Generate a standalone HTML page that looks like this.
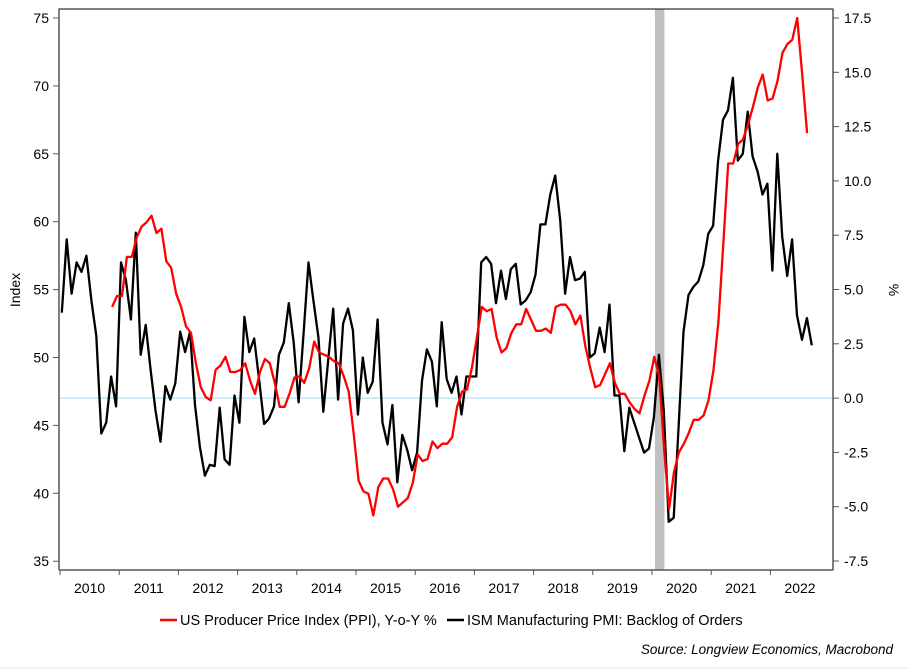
<!DOCTYPE html>
<html><head><meta charset="utf-8"><style>
html,body{margin:0;padding:0;background:#fff;}
svg{display:block;font-family:"Liberation Sans",Arial,sans-serif;}
</style></head><body>
<svg id="chart" width="907" height="672" viewBox="0 0 907 672">
<line x1="0" y1="668" x2="907" y2="668" stroke="#e0e0e0"/>
<g id="plot"></g>
<text x="20" y="290" font-size="14" text-anchor="middle" transform="rotate(-90 20 290)">Index</text>
<text x="889" y="290" font-size="14" text-anchor="middle" transform="rotate(90 889 290)">%</text>
<g>
<g><line x1="160" y1="620" x2="177" y2="620" stroke="#f00" stroke-width="2.5"/><text x="180" y="625" font-size="14.5">US Producer Price Index (PPI), Y-o-Y %</text></g>
<g><line x1="447" y1="620" x2="464" y2="620" stroke="#000" stroke-width="2.5"/><text x="467" y="625" font-size="14.5">ISM Manufacturing PMI: Backlog of Orders</text></g>
</g>
<text x="893" y="654" font-size="13.5" font-style="italic" text-anchor="end">Source: Longview Economics, Macrobond</text>
</svg>
<script>
const ismStart = 2010.03, ismEnd = 2022.70;
const ismValues = [53.3,58.7,54.7,57.0,56.3,57.5,54.2,51.6,44.4,45.2,48.6,46.4,57.0,55.7,52.8,59.2,50.2,52.4,49.1,46.1,43.8,47.9,46.9,48.1,51.9,50.4,51.9,46.5,43.4,41.3,42.1,42.0,46.3,42.5,42.1,47.2,45.2,53.0,50.4,51.4,48.3,45.1,45.5,46.4,50.2,51.1,54.0,51.1,46.7,51.8,57.0,54.2,51.5,46.0,49.8,53.6,46.9,52.5,53.6,52.0,45.8,50.0,47.4,48.2,52.8,45.2,43.6,46.5,40.8,44.3,43.2,41.7,43.0,48.3,50.6,49.7,46.4,52.6,48.4,47.4,48.6,45.8,48.6,48.6,48.6,57.0,57.4,56.9,54.0,56.4,54.3,56.5,56.9,53.9,54.2,54.8,56.1,59.8,59.8,62.0,63.4,60.1,54.7,57.4,55.7,55.8,56.3,50.0,50.3,52.2,50.4,53.9,47.2,47.2,43.1,46.3,45.2,44.1,43.0,43.3,45.6,50.2,46.1,37.9,38.2,44.9,51.9,54.6,55.2,55.6,56.8,59.1,59.7,64.5,67.5,68.2,70.6,64.5,65.0,68.1,64.8,63.7,62.0,62.8,56.4,65.0,58.9,56.0,58.7,53.1,51.3,52.9,50.9];
const ppiStart = 2010.88, ppiEnd = 2022.62;
const ppiValues = [4.2,4.7,4.7,6.5,6.5,7.4,7.9,8.1,8.4,7.6,7.8,6.3,6.0,4.8,4.2,3.3,3.0,1.6,0.5,0.05,-0.1,1.3,1.5,1.9,1.2,1.2,1.3,1.6,0.8,0.2,1.2,1.8,1.6,0.7,-0.4,-0.4,0.2,0.95,1.0,0.7,1.4,2.6,2.1,2.0,1.9,1.7,1.6,1.0,0.3,-1.6,-3.8,-4.3,-4.4,-5.4,-4.1,-3.7,-3.7,-4.2,-5.0,-4.8,-4.6,-3.9,-2.6,-2.9,-2.8,-2.0,-2.3,-2.1,-2.1,-1.8,-0.4,0.3,0.4,1.4,2.8,4.2,4.0,4.1,2.8,2.1,2.3,3.0,3.4,3.4,4.1,3.6,3.1,3.1,3.2,3.0,4.2,4.3,4.3,4.0,3.4,3.8,2.4,1.4,0.5,0.6,1.1,1.6,0.7,0.2,0.2,-0.2,-0.5,-0.7,0.1,0.8,1.9,1.0,-2.4,-5.1,-3.4,-2.5,-2.1,-1.6,-1.0,-1.0,-0.8,-0.1,1.3,3.5,7.1,10.8,10.8,11.7,11.9,12.6,13.4,14.3,14.9,13.7,13.8,14.6,15.9,16.3,16.5,17.5,14.9,12.2];
const years = [2010,2011,2012,2013,2014,2015,2016,2017,2018,2019,2020,2021,2022];
const leftTicks = [35,40,45,50,55,60,65,70,75];
const rightTicks = [-7.5,-5.0,-2.5,0.0,2.5,5.0,7.5,10.0,12.5,15.0,17.5];
const recession = [2020.05, 2020.21];

const NS="http://www.w3.org/2000/svg";
const g=document.getElementById('plot');
const L=59,R=833,T=9,B=570;
const x=t=>60+(t-2010)*59.2;
const yL=v=>18+(75-v)*13.58;
const yR=v=>18+(17.5-v)*21.72;
function el(tag,attrs,parent){const e=document.createElementNS(NS,tag);for(const k in attrs)e.setAttribute(k,attrs[k]);(parent||g).appendChild(e);return e;}

const band=el('rect',{x:x(recession[0]),y:T,width:x(recession[1])-x(recession[0]),height:B-T,fill:'#c0c0c0'});


const zl=el('line',{x1:L,x2:R,y1:yR(0),y2:yR(0),stroke:'#a8d8ea','stroke-width':1});



function series(vals,s,e,yf,color,name){
  const n=vals.length;
  const pts=vals.map((v,i)=>x(s+(e-s)*i/(n-1)).toFixed(1)+','+yf(v).toFixed(1)).join(' ');
  const p=el('polyline',{points:pts,fill:'none',stroke:color,'stroke-width':2.3,'stroke-linejoin':'round'});
  
  
}
series(ismValues,ismStart,ismEnd,yL,'#000','ism-backlog-line');
series(ppiValues,ppiStart,ppiEnd,yR,'#f00','ppi-yoy-line');

const fr=el('path',{d:`M${L},${B} L${L},${T} L${R},${T} L${R},${B} L${L},${B}`,fill:'none',stroke:'#000','stroke-width':1});


const la=el('line',{x1:L,x2:L,y1:T,y2:B,stroke:'#555','stroke-width':1.5});


const ra=el('line',{x1:R,x2:R,y1:T,y2:B,stroke:'#555','stroke-width':1.5});


const ba=el('line',{x1:L,x2:R,y1:B,y2:B,stroke:'#555','stroke-width':1.5});



leftTicks.forEach(v=>{
  el('line',{x1:L-6,x2:L,y1:yL(v),y2:yL(v),stroke:'#555'});
  const t=el('text',{x:L-10,y:yL(v)+5,'font-size':14,'text-anchor':'end'});
  t.textContent=v;
  
  
});
rightTicks.forEach(v=>{
  el('line',{x1:R,x2:R+6,y1:yR(v),y2:yR(v),stroke:'#555'});
  const t=el('text',{x:R+11,y:yR(v)+5,'font-size':14});
  t.textContent=v.toFixed(1);
  
  
});
years.forEach(yr=>{
  el('line',{x1:x(yr),x2:x(yr),y1:B,y2:B+5,stroke:'#555'});
  const t=el('text',{x:x(yr+0.5),y:B+23,'font-size':14,'text-anchor':'middle'});
  t.textContent=yr;
  
  
});
</script>
</body></html>
